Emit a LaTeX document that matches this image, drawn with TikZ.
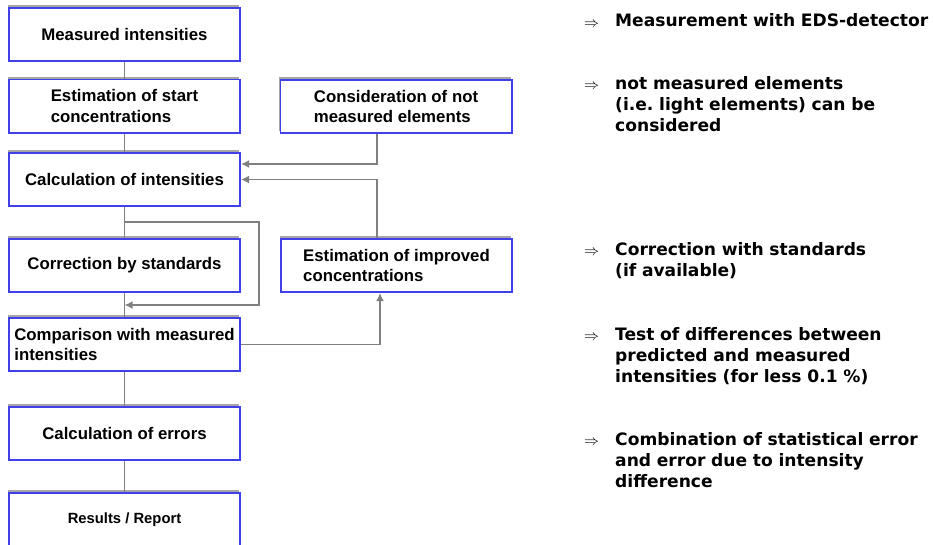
\documentclass[tikz,border=0pt]{standalone}
\usepackage{fontspec}
\usepackage{graphicx}
\usepackage{tikz}
\usetikzlibrary{calc,shadows,arrows.meta}
\newfontfamily\boxfont{Liberation Sans}
\newfontfamily\notefont{DejaVu Sans}
\definecolor{boxblue}{RGB}{64,64,235}
\definecolor{linegray}{RGB}{128,128,128}

\begin{document}
\begin{tikzpicture}[x=1pt,y=-1pt,
  proc/.style={draw=boxblue, line width=1.8pt, fill=white, minimum width=231.2pt, minimum height=53.2pt,
    align=left, inner sep=0pt, font=\boxfont\bfseries\fontsize{16.8}{20.5}\selectfont,
    drop shadow={shadow xshift=-1pt, shadow yshift=2.5pt, fill=gray!70, opacity=1}},
  link/.style={linegray, line width=1.9pt},
  feed/.style={link, -{Latex[length=8pt,width=8pt]}},
  note/.style={anchor=base west, inner sep=0pt, align=left, text width=320pt,
    font=\notefont\bfseries\fontsize{17.1}{21}\selectfont},
  imp/.style={anchor=base west, inner sep=0pt}]
\useasboundingbox (0,0) rectangle (933,544);

% main chain
\node[proc] (meas) at (124.5,34.5) {Measured intensities};
\node[proc] (est) at (124.5,106) {Estimation of start\\concentrations};
\node[proc] (calc) at (124.5,179.5) {Calculation of intensities};
\node[proc] (corr) at (124.5,265.5) {Correction by standards};
\node[proc] (comp) at (124.5,344.5) {Comparison with measured\\intensities};
\node[proc] (err) at (124.5,433.5) {Calculation of errors};
\node[proc, font=\boxfont\bfseries\fontsize{14.8}{17}\selectfont] (res) at (124.5,519.5) {Results / Report};

% side boxes
\node[proc] (cons) at (396,106.5) {Consideration of not\\measured elements};
\node[proc] (impr) at (396.5,265.5) {Estimation of improved\\concentrations};

\draw[link] (meas) -- (est);
\draw[link] (est) -- (calc);
\draw[link] (calc) -- (corr);
\draw[link] (corr) -- (comp);
\draw[link] (comp) -- (err);
\draw[link] (err) -- (res);

\draw[feed] ([xshift=-19pt]cons.south) |- ([yshift=15.5pt]calc.east);
\draw[feed] ([xshift=-19.5pt]impr.north) |- (calc.east);
\draw[feed] (comp.east) -| ([xshift=-16.5pt]impr.south);
\draw[feed] ([yshift=-15pt]calc.south) -| ([xshift=18pt]corr.east) |- ($(corr.south)!.5!(comp.north)$);

% notes
\node[imp] (a1) at (584,27) {\resizebox{15pt}{!}{$\Rightarrow$}};
\node[note] (n1) at (615,26.7) {Measurement with EDS-detector};
\node[imp] (a2) at (584,89.6) {\resizebox{15pt}{!}{$\Rightarrow$}};
\node[note] (n2) at (615,89.3) {not measured elements\\(i.e.\ light elements) can be\\considered};
\node[imp] (a3) at (584,255.3) {\resizebox{15pt}{!}{$\Rightarrow$}};
\node[note] (n3) at (615,255) {Correction with standards\\(if available)};
\node[imp] (a4) at (584,340.3) {\resizebox{15pt}{!}{$\Rightarrow$}};
\node[note] (n4) at (615,340) {Test of differences between\\predicted and measured\\intensities (for less 0.1 \%)};
\node[imp] (a5) at (584,445.3) {\resizebox{15pt}{!}{$\Rightarrow$}};
\node[note] (n5) at (615,445) {Combination of statistical error\\and error due to intensity\\difference};
\end{tikzpicture}
\end{document}
